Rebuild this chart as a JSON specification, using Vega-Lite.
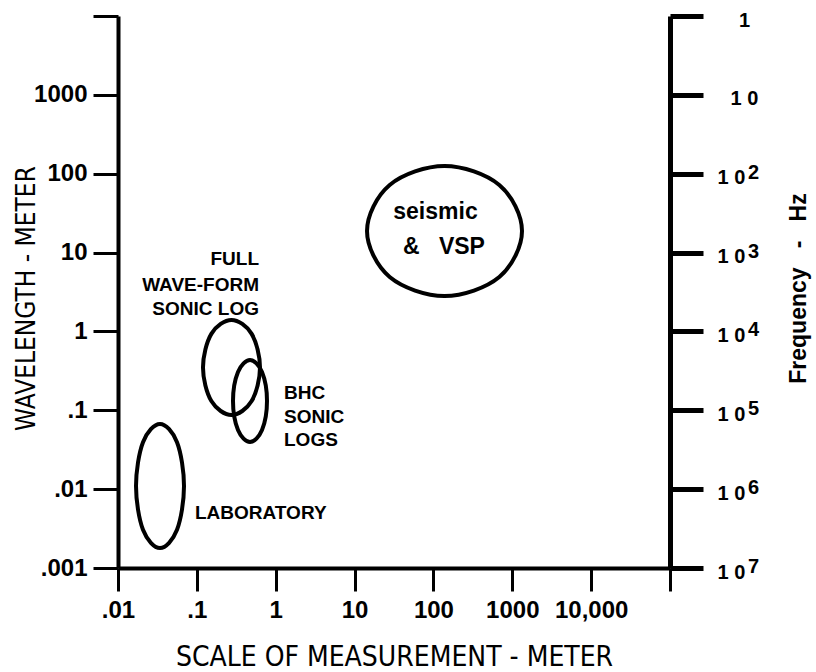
{
  "$schema": "https://vega.github.io/schema/vega-lite/v6.json",
  "autosize": {"type": "none"},
  "padding": {"left": 118, "top": 16, "right": 146, "bottom": 104},
  "width": 552,
  "height": 552,
  "background": "white",
  "config": {
    "view": {"stroke": null},
    "axis": {"grid": false, "labelOverlap": false, "labelBound": false, "labelFlush": false, "domainColor": "black", "tickColor": "black", "labelColor": "black", "titleColor": "black"}
  },
  "layer": [
    {
      "layer": [
        {
          "data": {"values": [
            {"name": "seismic", "i": 0, "x": 1328, "y": 18.77},
            {"name": "seismic", "i": 1, "x": 684.3, "y": 71.93},
            {"name": "seismic", "i": 2, "x": 138.2, "y": 125.2},
            {"name": "seismic", "i": 3, "x": 27.89, "y": 71.93},
            {"name": "seismic", "i": 4, "x": 14.38, "y": 18.77},
            {"name": "seismic", "i": 5, "x": 27.89, "y": 4.899},
            {"name": "seismic", "i": 6, "x": 138.2, "y": 2.814},
            {"name": "seismic", "i": 7, "x": 684.3, "y": 4.899},
            {"name": "fullwave", "i": 0, "x": 0.6321, "y": 0.349},
            {"name": "fullwave", "i": 1, "x": 0.4953, "y": 0.931},
            {"name": "fullwave", "i": 2, "x": 0.2749, "y": 1.396},
            {"name": "fullwave", "i": 3, "x": 0.1527, "y": 0.931},
            {"name": "fullwave", "i": 4, "x": 0.1196, "y": 0.349},
            {"name": "fullwave", "i": 5, "x": 0.1527, "y": 0.1309},
            {"name": "fullwave", "i": 6, "x": 0.2749, "y": 0.0871},
            {"name": "fullwave", "i": 7, "x": 0.4953, "y": 0.1309},
            {"name": "bhc", "i": 0, "x": 0.7753, "y": 0.1312},
            {"name": "bhc", "i": 1, "x": 0.6702, "y": 0.306},
            {"name": "bhc", "i": 2, "x": 0.4721, "y": 0.4345},
            {"name": "bhc", "i": 3, "x": 0.3324, "y": 0.306},
            {"name": "bhc", "i": 4, "x": 0.2873, "y": 0.1312},
            {"name": "bhc", "i": 5, "x": 0.3324, "y": 0.0562},
            {"name": "bhc", "i": 6, "x": 0.4721, "y": 0.0396},
            {"name": "bhc", "i": 7, "x": 0.6702, "y": 0.0562},
            {"name": "lab", "i": 0, "x": 0.06871, "y": 0.01096},
            {"name": "lab", "i": 1, "x": 0.05601, "y": 0.0394},
            {"name": "lab", "i": 2, "x": 0.03408, "y": 0.067},
            {"name": "lab", "i": 3, "x": 0.02075, "y": 0.0394},
            {"name": "lab", "i": 4, "x": 0.01692, "y": 0.01096},
            {"name": "lab", "i": 5, "x": 0.02075, "y": 0.00305},
            {"name": "lab", "i": 6, "x": 0.03408, "y": 0.001795},
            {"name": "lab", "i": 7, "x": 0.05601, "y": 0.00305}
          ]},
          "mark": {"type": "line", "interpolate": "cardinal-closed", "strokeWidth": 4, "color": "black"},
          "encoding": {
            "x": {
              "field": "x", "type": "quantitative",
              "scale": {"type": "log", "domain": [0.01, 100000]},
              "axis": {
                "values": [0.01, 0.1, 1, 10, 100, 1000, 10000, 100000],
                "labelExpr": "datum.value < 0.05 ? '.01' : datum.value < 0.5 ? '.1' : datum.value < 5 ? '1' : datum.value < 50 ? '10' : datum.value < 500 ? '100' : datum.value < 5000 ? '1000' : datum.value < 50000 ? '10,000' : ''",
                "tickSize": 23, "tickWidth": 3, "domainWidth": 4,
                "labelFont": "Liberation Sans", "labelFontWeight": "bold", "labelFontSize": 24, "labelPadding": 7,
                "title": "SCALE OF MEASUREMENT - METER",
                "titleFont": "DejaVu Sans Condensed, Liberation Sans", "titleFontSize": 28, "titleFontWeight": "normal",
                "titleX": 276, "titleY": 97, "titleAlign": "center", "titleBaseline": "alphabetic"
              }
            },
            "y": {
              "field": "y", "type": "quantitative",
              "scale": {"type": "log", "domain": [0.001, 10000]},
              "axis": {
                "values": [0.001, 0.01, 0.1, 1, 10, 100, 1000, 10000],
                "labelExpr": "datum.value < 0.005 ? '.001' : datum.value < 0.05 ? '.01' : datum.value < 0.5 ? '.1' : datum.value < 5 ? '1' : datum.value < 50 ? '10' : datum.value < 500 ? '100' : datum.value < 5000 ? '1000' : ''",
                "tickSize": 25, "tickWidth": 3, "domainWidth": 4,
                "labelFont": "Liberation Sans", "labelFontWeight": "bold", "labelFontSize": 24, "labelPadding": 6, "labelBaseline": "middle",
                "title": "WAVELENGTH - METER",
                "titleFont": "DejaVu Sans Condensed, Liberation Sans", "titleFontSize": 26, "titleFontWeight": "normal",
                "titleX": -92, "titleY": 282, "titleAngle": 270, "titleAlign": "center", "titleBaseline": "middle"
              }
            },
            "detail": {"field": "name"},
            "order": {"field": "i"}
          }
        },
        {
          "mark": {"type": "rule", "strokeWidth": 5, "color": "black"},
          "encoding": {
            "x": {"datum": 0.01},
            "x2": {"datum": 100000},
            "y": {"datum": 10000}
          }
        },
        {
          "mark": {"type": "rule", "strokeWidth": 5, "color": "black"},
          "encoding": {
            "x": {"datum": 100000},
            "y": {"datum": 10000},
            "y2": {"datum": 13400}
          }
        },
        {
          "data": {"values": [
            {"label": "FULL", "x": 0.6138, "y": 6.958},
            {"label": "WAVE-FORM", "x": 0.6138, "y": 3.256},
            {"label": "SONIC LOG", "x": 0.6138, "y": 1.615}
          ]},
          "mark": {"type": "text", "align": "right", "baseline": "alphabetic", "font": "Liberation Sans", "fontWeight": "bold", "fontSize": 19, "color": "black"},
          "encoding": {
            "x": {"field": "x", "type": "quantitative"},
            "y": {"field": "y", "type": "quantitative"},
            "text": {"field": "label"}
          }
        },
        {
          "data": {"values": [
            {"label": "BHC", "x": 1.274, "y": 0.139},
            {"label": "SONIC", "x": 1.274, "y": 0.06901},
            {"label": "LOGS", "x": 1.274, "y": 0.03524},
            {"label": "LABORATORY", "x": 0.0947, "y": 0.004182}
          ]},
          "mark": {"type": "text", "align": "left", "baseline": "alphabetic", "font": "Liberation Sans", "fontWeight": "bold", "fontSize": 19, "color": "black"},
          "encoding": {
            "x": {"field": "x", "type": "quantitative"},
            "y": {"field": "y", "type": "quantitative"},
            "text": {"field": "label"}
          }
        },
        {
          "data": {"values": [
            {"label": "seismic", "x": 106.2, "y": 26.65},
            {"label": "&\u00a0\u00a0\u00a0VSP", "x": 136.2, "y": 9.59}
          ]},
          "mark": {"type": "text", "align": "center", "baseline": "alphabetic", "font": "Liberation Sans", "fontWeight": "bold", "fontSize": 23, "color": "black"},
          "encoding": {
            "x": {"field": "x", "type": "quantitative"},
            "y": {"field": "y", "type": "quantitative"},
            "text": {"field": "label"}
          }
        }
      ]
    },
    {
      "data": {"values": [
        {"freq": 1, "exp": ""},
        {"freq": 10, "exp": ""},
        {"freq": 100, "exp": "2"},
        {"freq": 1000, "exp": "3"},
        {"freq": 10000, "exp": "4"},
        {"freq": 100000, "exp": "5"},
        {"freq": 1000000, "exp": "6"},
        {"freq": 10000000, "exp": "7"}
      ]},
      "mark": {"type": "text", "align": "left", "baseline": "alphabetic", "dx": 78, "dy": 5, "font": "Liberation Sans", "fontWeight": "bold", "fontSize": 20, "color": "black"},
      "encoding": {
        "x": {"datum": 100000},
        "y": {
          "field": "freq", "type": "quantitative",
          "scale": {"type": "log", "domain": [1, 10000000], "reverse": true},
          "axis": {
            "orient": "right",
            "values": [1, 10, 100, 1000, 10000, 100000, 1000000, 10000000],
            "labelExpr": "datum.value < 2 ? '1' : '1 0'",
            "tickSize": 33, "tickWidth": 5, "domainWidth": 5,
            "labelFont": "Liberation Sans", "labelFontWeight": "bold", "labelFontSize": 20,
            "labelAlign": "center", "labelBaseline": "middle", "labelOffset": 4,
            "labelPadding": {"condition": {"test": "datum.value <= 10", "value": 41}, "value": 28},
            "title": "Frequency\u00a0\u00a0\u00a0-\u00a0\u00a0\u00a0Hz",
            "titleFont": "Liberation Sans", "titleFontWeight": "bold", "titleFontSize": 23,
            "titleAngle": 270, "titleX": 128, "titleY": 272, "titleAlign": "center", "titleBaseline": "middle"
          }
        },
        "text": {"field": "exp"}
      }
    }
  ],
  "resolve": {"scale": {"y": "independent"}}
}
